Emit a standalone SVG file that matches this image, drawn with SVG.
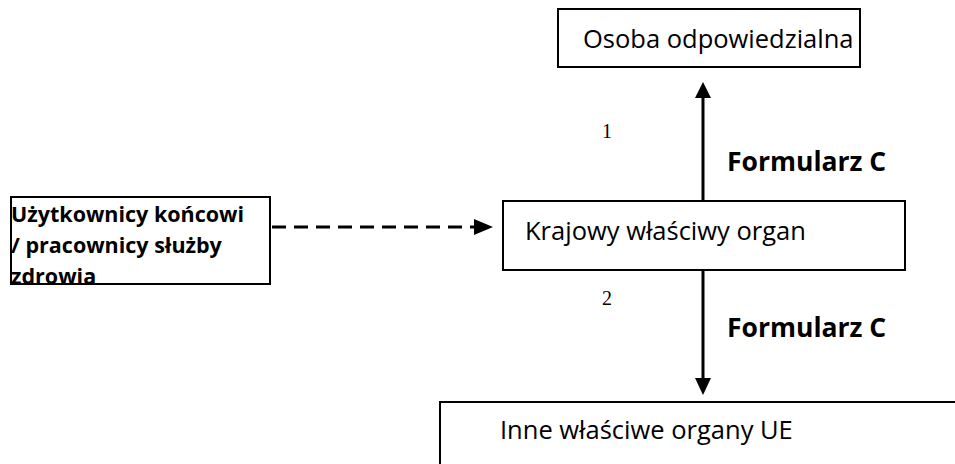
<svg xmlns="http://www.w3.org/2000/svg" width="955" height="464" viewBox="0 0 955 464">
<style>
.box{fill:#fff;stroke:#000;stroke-width:2}
.t{font-family:"Open Sans","Liberation Sans",sans-serif;font-size:25.5px;fill:#000}
.b{font-family:"Open Sans","Liberation Sans",sans-serif;font-weight:bold;fill:#000}
.n{font-family:"Liberation Serif","Times New Roman",serif;font-size:20px;fill:#000}
.ln{stroke:#000;stroke-width:3;fill:none}
</style>
<g id="osoba">
<rect class="box" x="558" y="9" width="302" height="58"/>
<text class="t" x="583" y="48">Osoba odpowiedzialna</text>
</g>
<g id="krajowy">
<rect class="box" x="503" y="201" width="402" height="69"/>
<text class="t" x="525" y="240">Krajowy właściwy organ</text>
</g>
<g id="uzytkownicy">
<rect class="box" x="11" y="197" width="259" height="87"/>
<text class="b" font-size="21.5" x="11" y="222">Użytkownicy końcowi</text>
<text class="b" font-size="21.5" x="11" y="253">/ pracownicy służby</text>
<text class="b" font-size="21.5" x="11" y="284">zdrowia</text>
</g>
<g id="inne">
<rect class="box" x="440" y="402" width="530" height="80"/>
<text class="t" x="500" y="439">Inne właściwe organy UE</text>
</g>
<g id="connectors">
<line class="ln" x1="272" y1="227" x2="476" y2="227" stroke-dasharray="14,8"/>
<path d="M474,219 L493,227 L474,235 z" fill="#000"/>
<line class="ln" x1="703" y1="200" x2="703" y2="96"/>
<path d="M695,98 L703,82 L711,98 z" fill="#000"/>
<line class="ln" x1="703" y1="271" x2="703" y2="380"/>
<path d="M695,378 L703,395 L711,378 z" fill="#000"/>
<text class="n" x="602" y="138">1</text>
<text class="n" x="602" y="305">2</text>
<text class="b" font-size="26.5" x="727" y="171">Formularz C</text>
<text class="b" font-size="26.5" x="727" y="337">Formularz C</text>
</g>
</svg>
